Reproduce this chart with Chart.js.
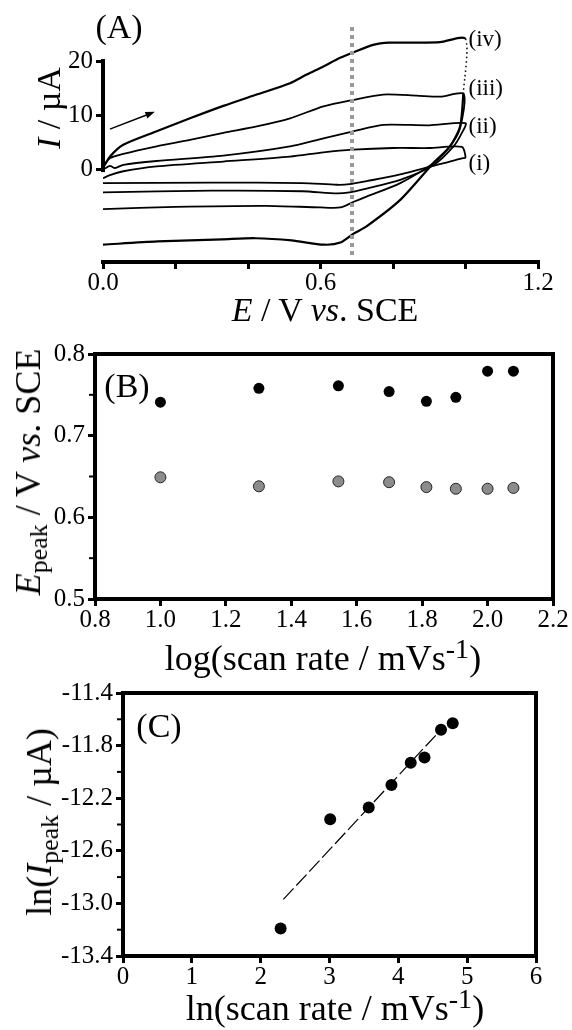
<!DOCTYPE html>
<html><head><meta charset="utf-8">
<script src="https://cdn.jsdelivr.net/npm/chart.js@4.4.1/dist/chart.umd.min.js"></script>
<style>
body{margin:0;background:#fff;width:572px;height:1030px;position:relative;overflow:hidden;font-family:"Liberation Serif","Times New Roman",serif;color:#000}
canvas{position:absolute;left:0}
.t{position:absolute;white-space:nowrap;line-height:1;transform:translate(-50%,-50%)}
.r{transform:translate(-50%,-50%) rotate(-90deg)}
sub{font-size:0.72em;vertical-align:-0.28em;line-height:0}
sup{font-size:0.78em;vertical-align:0.42em;line-height:0}
</style></head>
<body>
<canvas id="cA" width="572" height="300" style="top:0;width:572px;height:300px"></canvas>
<canvas id="cB" width="572" height="350" style="top:330px;width:572px;height:350px"></canvas>
<canvas id="cC" width="572" height="350" style="top:680px;width:572px;height:350px"></canvas>

<div class="t" style="left:119px;top:27px;font-size:34px">(A)</div>
<div class="t" style="left:325px;top:310px;font-size:34px"><i>E</i> / V <i>vs</i>. SCE</div>
<div class="t r" style="left:49px;top:108px;font-size:34px"><i>I</i> / µA</div>
<div class="t" style="left:127px;top:386px;font-size:34px">(B)</div>
<div class="t r" style="left:28px;top:472px;font-size:36px"><i>E</i><sub>peak</sub> / V <i>vs</i>. SCE</div>
<div class="t" style="left:323px;top:658px;font-size:36px">log(scan rate / mVs<sup>-1</sup>)</div>
<div class="t" style="left:159px;top:726px;font-size:34px">(C)</div>
<div class="t r" style="left:39px;top:822px;font-size:36px">ln(<i>I</i><sub>peak</sub> / µA)</div>
<div class="t" style="left:335px;top:1008px;font-size:36px">ln(scan rate / mVs<sup>-1</sup>)</div>
<div id="curveLabels"></div>

<script>
const FONT = '"Liberation Serif","Times New Roman",serif';

// ---------- Panel A: cyclic voltammograms (E / V, I / µA) ----------
const cvE_i = [0.0,0.019,0.056,0.148,0.332,0.516,0.608,0.69,0.8,0.9,0.99,1.0,0.99,0.94,0.82,0.73,0.68,0.645,0.55,0.3,0.0];
const cvI_i = [-1.7,-1.1,-0.4,0.5,1.4,2.3,3.1,3.6,3.9,3.9,4.1,2.1,2.0,1.1,-1.0,-2.2,-2.8,-2.9,-2.6,-2.5,-2.6];
const cvE_ii = [0.0,0.019,0.033,0.056,0.148,0.332,0.516,0.608,0.69,0.773,0.9,1.0,0.99,0.967,0.911,0.82,0.727,0.68,0.645,0.55,0.3,0.0];
const cvI_ii = [-0.1,0.6,0.2,0.8,1.5,2.5,4.2,5.7,7.0,8.2,8.1,8.5,6.7,4.2,0.7,-2.0,-3.6,-4.3,-4.5,-4.1,-4.0,-4.3];
const cvE_iii = [0.0,0.019,0.056,0.148,0.24,0.332,0.424,0.516,0.608,0.69,0.773,0.865,0.93,0.995,0.985,0.957,0.911,0.82,0.727,0.69,0.655,0.6,0.45,0.2,0.0];
const cvI_iii = [0.5,2.0,2.8,4.2,5.4,6.7,7.9,9.4,11.6,12.8,13.8,13.6,13.4,13.9,7.6,4.2,1.1,-2.6,-5.1,-6.1,-7.1,-7.1,-6.8,-7.0,-7.4];
const cvE_iv = [0.0,0.019,0.056,0.148,0.24,0.332,0.424,0.516,0.562,0.608,0.654,0.69,0.745,0.79,0.865,0.93,1.0,0.994,0.985,0.957,0.911,0.82,0.727,0.69,0.655,0.61,0.52,0.42,0.33,0.15,0.0];
const cvI_iv = [0.2,2.3,4.5,7.0,9.4,11.7,13.8,15.9,17.5,19.0,20.6,21.6,23.0,23.4,23.4,23.5,24.1,14.1,7.9,4.2,1.1,-5.7,-10.6,-12.0,-13.6,-14.0,-13.2,-12.8,-13.0,-13.4,-14.0];
const markerE = [0.687, 0.687];
const markerI = [-15.9, 26.7];
const arrowE = [0.019, 0.143];
const arrowI = [7.4, 10.6];
const curveNames = ['(i)','(ii)','(iii)','(iv)'];
const curveLabelE = [1.0, 1.0, 1.0, 1.0];
const curveLabelI = [1.3, 8.1, 15.2, 24.3];
const xTicksA = [0,0.2,0.4,0.6,0.8,1.0,1.2];
const xTickLabelsA = ['0.0','','','0.6','','','1.2'];
const yTicksA = [0,10,20];
const yTickLabelsA = ['0','10','20'];

// ---------- Panel B: peak potentials ----------
const logScanRate = [1.0,1.301,1.544,1.699,1.813,1.903,2.0,2.079];
const EpeakBlack = [0.741,0.758,0.761,0.754,0.742,0.747,0.779,0.779];
const EpeakGrey = [0.649,0.638,0.644,0.643,0.637,0.635,0.635,0.636];
const xTicksB = [0.8,1.0,1.2,1.4,1.6,1.8,2.0,2.2];
const xTickLabelsB = ['0.8','1.0','1.2','1.4','1.6','1.8','2.0','2.2'];
const yTicksB = [0.5,0.6,0.7,0.8];
const yTickLabelsB = ['0.5','0.6','0.7','0.8'];
const yMinorB = [0.55,0.65,0.75];

// ---------- Panel C: ln(Ipeak) vs ln(scan rate) ----------
const lnScanRate = [2.29,3.01,3.57,3.90,4.18,4.38,4.62,4.79];
const lnIpeak = [-13.19,-12.36,-12.27,-12.10,-11.93,-11.89,-11.68,-11.63];
const fitX = [2.33, 4.6];
const fitY = [-12.97, -11.69];
const xTicksC = [0,1,2,3,4,5,6];
const xTickLabelsC = ['0','1','2','3','4','5','6'];
const yTicksC = [-13.4,-13.0,-12.6,-12.2,-11.8,-11.4];
const yTickLabelsC = ['-13.4','-13.0','-12.6','-12.2','-11.8','-11.4'];
const yMinorC = [-13.2,-12.8,-12.4,-12.0,-11.6];

const pts = (xs, ys) => xs.map((x, k) => ({x, y: ys[k]}));

function axis(min, max, ticks, labels, size, isX, borderOn) {
  return {
    type: 'linear', min, max,
    afterBuildTicks: s => { s.ticks = ticks.map(v => ({value: v})); },
    ticks: {autoSkip: false, maxRotation: 0, minRotation: 0, padding: isX ? 2 : 3, color: '#000',
      font: {family: FONT, size: 25, lineHeight: 1}, callback: (v, i) => labels[i]},
    grid: {drawOnChartArea: false, drawTicks: true, tickLength: 7, color: '#000', lineWidth: 3},
    border: {display: borderOn, width: 4, color: '#000'},
    afterFit: s => {
      if (isX) s.height = size; else s.width = size;
      s.paddingLeft = 0; s.paddingRight = 0; s.paddingTop = 0; s.paddingBottom = 0;
    }
  };
}

function baseOptions(pad, scales) {
  return {
    responsive: false, animation: false, devicePixelRatio: 1,
    layout: {padding: pad},
    plugins: {legend: {display: false}, tooltip: {enabled: false}},
    scales
  };
}

const boxPlugin = {
  id: 'box',
  beforeDatasetsDraw(chart) {
    const {ctx, chartArea: a} = chart;
    ctx.save(); ctx.lineWidth = 4; ctx.strokeStyle = '#000';
    ctx.strokeRect(a.left, a.top, a.right - a.left, a.bottom - a.top);
    const minor = chart.options.plugins.box && chart.options.plugins.box.minor || [];
    ctx.lineWidth = 2;
    minor.forEach(v => {
      const y = chart.scales.y.getPixelForValue(v);
      ctx.beginPath(); ctx.moveTo(a.left - 6, y); ctx.lineTo(a.left, y); ctx.stroke();
    });
    ctx.restore();
  }
};

// ---------- Chart A ----------
const plugA = {
  id: 'plugA',
  afterDraw(chart) {
    const {ctx, chartArea: a, scales: {x, y}} = chart;
    ctx.save();
    ctx.strokeStyle = '#000'; ctx.lineWidth = 4;
    ctx.beginPath();
    ctx.moveTo(a.left, y.getPixelForValue(yTicksA[yTicksA.length - 1]) - 2);
    ctx.lineTo(a.left, y.getPixelForValue(yTicksA[0]) + 3);
    ctx.stroke();
    // arrow
    const x0 = x.getPixelForValue(arrowE[0]), y0 = y.getPixelForValue(arrowI[0]);
    const x1 = x.getPixelForValue(arrowE[1]), y1 = y.getPixelForValue(arrowI[1]);
    const ang = Math.atan2(y1 - y0, x1 - x0);
    ctx.lineWidth = 1.4;
    ctx.beginPath(); ctx.moveTo(x0, y0); ctx.lineTo(x1 - 4 * Math.cos(ang), y1 - 4 * Math.sin(ang)); ctx.stroke();
    ctx.fillStyle = '#000';
    ctx.beginPath();
    ctx.moveTo(x1, y1);
    ctx.lineTo(x1 - 10 * Math.cos(ang - 0.35), y1 - 10 * Math.sin(ang - 0.35));
    ctx.lineTo(x1 - 10 * Math.cos(ang + 0.35), y1 - 10 * Math.sin(ang + 0.35));
    ctx.closePath(); ctx.fill();
    ctx.restore();
  }
};

const curveDs = (xs, ys, w, dotted) => ({
  data: pts(xs, ys), showLine: true, pointRadius: 0, borderColor: '#000', borderWidth: w, tension: 0.25,
  segment: dotted ? {borderDash: c => c.p0DataIndex === dotted ? [1.5, 3] : undefined,
                     borderWidth: c => c.p0DataIndex === dotted ? 1.5 : undefined} : undefined
});

const chartA = new Chart(document.getElementById('cA'), {
  type: 'scatter',
  data: {datasets: [
    {data: pts(markerE, markerI), showLine: true, pointRadius: 0, borderColor: '#9a9a9a', borderWidth: 4, borderDash: [4, 4]},
    curveDs(cvE_i, cvI_i, 1.8),
    curveDs(cvE_ii, cvI_ii, 1.8),
    curveDs(cvE_iii, cvI_iii, 1.8),
    curveDs(cvE_iv, cvI_iv, 2.2, 16)
  ]},
  options: baseOptions({left: 0, top: 20, right: 34, bottom: 0}, {
    x: axis(0, 1.2, xTicksA, xTickLabelsA, 38, true, true),
    y: axis(-17.2, 27.6, yTicksA, yTickLabelsA, 103, false, false)
  }),
  plugins: [plugA]
});

// curve labels as DOM text, anchored through the chart scales
(function () {
  const box = document.getElementById('curveLabels');
  curveNames.forEach((n, k) => {
    const d = document.createElement('div');
    d.className = 't';
    d.style.fontSize = '23px';
    d.style.transform = 'translate(0,-50%)';
    d.style.left = (chartA.scales.x.getPixelForValue(curveLabelE[k]) + 3) + 'px';
    d.style.top = chartA.scales.y.getPixelForValue(curveLabelI[k]) + 'px';
    d.textContent = n;
    box.appendChild(d);
  });
})();

// ---------- Chart B ----------
const optB = baseOptions({left: 0, top: 24, right: 19, bottom: 0}, {
  x: axis(0.8, 2.2, xTicksB, xTickLabelsB, 81, true, false),
  y: axis(0.5, 0.8, yTicksB, yTickLabelsB, 95, false, false)
});
optB.plugins.box = {minor: yMinorB};
new Chart(document.getElementById('cB'), {
  type: 'scatter',
  data: {datasets: [
    {data: pts(logScanRate, EpeakBlack), pointRadius: 5.5, backgroundColor: '#000', borderWidth: 0},
    {data: pts(logScanRate, EpeakGrey), pointRadius: 5.5, backgroundColor: '#8c8c8c', borderColor: '#222', borderWidth: 1}
  ]},
  options: optB,
  plugins: [boxPlugin]
});

// ---------- Chart C ----------
const optC = baseOptions({left: 0, top: 13, right: 36, bottom: 0}, {
  x: axis(0, 6, xTicksC, xTickLabelsC, 74, true, false),
  y: axis(-13.4, -11.4, yTicksC, yTickLabelsC, 123, false, false)
});
optC.plugins.box = {minor: yMinorC};
new Chart(document.getElementById('cC'), {
  type: 'scatter',
  data: {datasets: [
    {data: pts(lnScanRate, lnIpeak), pointRadius: 6, backgroundColor: '#000', borderWidth: 0},
    {data: pts(fitX, fitY), showLine: true, pointRadius: 0, borderColor: '#000', borderWidth: 1.2, borderDash: [15, 4]}
  ]},
  options: optC,
  plugins: [boxPlugin]
});
</script>
</body></html>
